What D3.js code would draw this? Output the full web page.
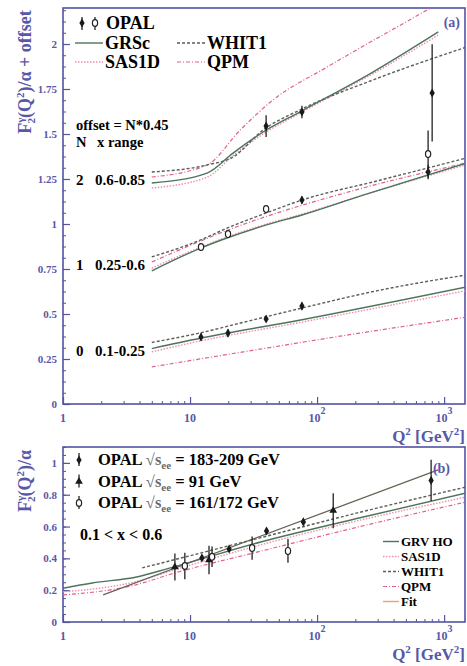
<!DOCTYPE html>
<html>
<head>
<meta charset="utf-8">
<script src="https://cdn.jsdelivr.net/npm/d3@7"></script>
<style>
	body { margin: 0; background: #fff; }
</style>
</head>
<body>
<div id="chart-area"></div>
<script>
// ---- data ----
// panel (a): F2/alpha per x range, drawn with offset N*0.45
var offsetStep = 0.45;
var groupN = [0, 1, 2];
var groupXRange = ["0.1-0.25", "0.25-0.6", "0.6-0.85"];

// curves, [Q2, F2] per group N = 0, 1, 2
var grscA = [
	[[5, 0.308], [12, 0.365], [76, 0.468], [1500, 0.65]],
	[[5, 0.29], [12, 0.415], [20, 0.475], [40, 0.545], [76, 0.6], [230, 0.71], [1500, 0.889]],
	[[5, 0.328], [13.6, 0.383], [21.8, 0.494], [37.6, 0.611], [73, 0.722], [275, 0.944], [900, 1.167]]
];
var sasA = [
	[[5, 0.29], [12, 0.35], [76, 0.455], [1500, 0.63]],
	[[5, 0.305], [12, 0.42], [20, 0.48], [40, 0.55], [76, 0.605], [230, 0.71], [1500, 0.88]],
	[[5, 0.3], [13.6, 0.36], [21.8, 0.48], [37.6, 0.6], [73, 0.715], [275, 0.935], [900, 1.15]]
];
var whitA = [
	[[5, 0.342], [12, 0.395], [25, 0.45], [76, 0.533], [300, 0.63], [1500, 0.717]],
	[[5, 0.367], [12, 0.46], [20, 0.53], [40, 0.612], [76, 0.683], [300, 0.79], [1500, 0.917]],
	[[5, 0.389], [13.6, 0.428], [21.8, 0.472], [37.6, 0.622], [73, 0.733], [275, 0.9], [1500, 1.083]]
];
var qpmA = [
	[[5, 0.206], [20, 0.276], [200, 0.39], [1500, 0.483]],
	[[5, 0.339], [20, 0.517], [230, 0.75], [1500, 0.889]],
	[[5, 0.361], [13.6, 0.428], [24.8, 0.622], [45, 0.789], [120, 0.972], [735, 1.289], [1000, 1.343]]
];

// OPAL points per group
var opalAQ2 = [[12.2, 19.9, 39.7, 76], [12.2, 19.9, 39.7, 76, 748], [39.7, 76, 748, 805]];
var opalAF2 = [[0.372, 0.394, 0.472, 0.544], [0.422, 0.494, 0.633, 0.683, 0.839], [0.644, 0.722, 0.489, 0.828]];
var opalAErr = [[0.02, 0.02, 0.015, 0.02], [0.02, 0.02, 0.02, 0.02, 0.04], [0.06, 0.035, 0.13, 0.27]];
var opalAOpen = [[0, 0, 0, 0], [1, 1, 1, 0, 0], [0, 0, 1, 0]];

// panel (b): 0.1 < x < 0.6
var grvB = [[1, 0.212], [1.7, 0.245], [3.8, 0.283], [7, 0.34], [36, 0.503], [218, 0.655], [1500, 0.811]];
var sasB = [[1, 0.19], [3.8, 0.255], [7, 0.32], [36, 0.485], [218, 0.64], [1500, 0.786]];
var whitB = [[4.2, 0.34], [36, 0.53], [218, 0.69], [1500, 0.849]];
var qpmB = [[1, 0.17], [3.8, 0.235], [7, 0.3], [36, 0.445], [218, 0.6], [1500, 0.755]];
var fitB = [[2.07, 0.17], [897, 0.956]];

var opalBQ2 = [7.6, 9.1, 12.4, 14.1, 14.9, 20.3, 30.8, 40, 59, 78, 134, 790];
var opalBF2 = [0.346, 0.352, 0.403, 0.39, 0.41, 0.459, 0.465, 0.572, 0.447, 0.629, 0.70, 0.89];
var opalBErr = [0.085, 0.083, 0.015, 0.09, 0.065, 0.012, 0.073, 0.02, 0.075, 0.02, 0.11, 0.13];
var opalBSet = [1, 2, 0, 1, 2, 0, 2, 0, 2, 0, 1, 0]; // 0: 183-209, 1: 91, 2: 161/172
var opalBLabels = ["183-209 GeV", "91 GeV", "161/172 GeV"];

// axis ticks
var xMajorTicks = [1, 10, 100, 1000];
var xTickBase = ["1", "10", "10", "10"];
var xTickExp = ["", "", "2", "3"];
var yTicksA = [0, 0.25, 0.5, 0.75, 1, 1.25, 1.5, 1.75, 2];
var yTickLabelsA = ["0", "0.25", "0.5", "0.75", "1", "1.25", "1.5", "1.75", "2"];
var yTicksB = [0, 0.2, 0.4, 0.6, 0.8, 1];
var yTickLabelsB = ["0", "0.2", "0.4", "0.6", "0.8", "1"];

// ---- styles ----
var frameColor = "#5353a0";
var labelColor = "#5858a8";
var serif = "'Liberation Serif', 'DejaVu Serif', serif";
var styles = {
	grsc: { color: "#4d7459", dash: null, width: 1.4 },
	sas: { color: "#ee8cb4", dash: "1.5,1.5", width: 1.4 },
	whit: { color: "#5a5f5a", dash: "3,2", width: 1.4 },
	qpm: { color: "#e2608c", dash: "4,2,1,2", width: 1.2 },
	fit: { color: "#676457", dash: null, width: 1.3 },
	fitLegend: { color: "#f0a070", dash: null, width: 1.4 }
};

var width = 467;
var height = 666;

var svg = d3.select("#chart-area")
	.append("svg")
	.attr("width", width)
	.attr("height", height)
	.style("font-family", serif);

var panelA = { left: 63, right: 465, top: 8, bottom: 404 };
var panelB = { left: 63, right: 465, top: 447, bottom: 622 };

var xA = d3.scaleLog().domain([1, 1460]).range([panelA.left, panelA.right]);
var yA = d3.scaleLinear().domain([0, 2.2]).range([panelA.bottom, panelA.top]);
var xB = d3.scaleLog().domain([1, 1460]).range([panelB.left, panelB.right]);
var yB = d3.scaleLinear().domain([0, 1.1]).range([panelB.bottom, panelB.top]);

var minorX = [];
[1, 10, 100].forEach(function (dec) {
	for (var k = 2; k <= 9; k++) minorX.push(k * dec);
});

function drawFrame(p, x, y, yTicks, yLabels, yMinorStep, id) {
	var g = svg.append("g");

	// minor x ticks
	g.append("g")
		.attr("transform", "translate(0," + p.bottom + ")")
		.call(d3.axisBottom(x).tickValues(minorX).tickSize(-3).tickFormat(""))
		.call(a => a.select(".domain").remove())
		.call(a => a.selectAll("line").attr("stroke", frameColor).attr("stroke-width", 1));

	// major x ticks
	g.append("g")
		.attr("transform", "translate(0," + p.bottom + ")")
		.call(d3.axisBottom(x).tickValues(xMajorTicks).tickSize(-7).tickFormat(""))
		.call(a => a.select(".domain").remove())
		.call(a => a.selectAll("line").attr("stroke", frameColor).attr("stroke-width", 1.2));

	var xl = g.selectAll(".xlab")
		.data(xMajorTicks)
		.enter().append("text")
		.attr("x", d => x(d))
		.attr("y", p.bottom + 18)
		.attr("text-anchor", "middle")
		.attr("fill", labelColor)
		.attr("font-weight", "bold")
		.attr("font-size", "12px");
	xl.append("tspan").text((d, i) => xTickBase[i]);
	xl.append("tspan")
		.attr("dy", -8)
		.attr("font-size", "10px")
		.text((d, i) => xTickExp[i]);

	// y ticks
	var minorY = d3.range(0, y.domain()[1] + 1e-9, yMinorStep);
	g.append("g")
		.attr("transform", "translate(" + p.left + ",0)")
		.call(d3.axisLeft(y).tickValues(minorY).tickSize(-3).tickFormat(""))
		.call(a => a.select(".domain").remove())
		.call(a => a.selectAll("line").attr("stroke", frameColor).attr("stroke-width", 1));

	g.append("g")
		.attr("transform", "translate(" + p.left + ",0)")
		.call(d3.axisLeft(y).tickValues(yTicks).tickSize(-7).tickFormat(""))
		.call(a => a.select(".domain").remove())
		.call(a => a.selectAll("line").attr("stroke", frameColor).attr("stroke-width", 1.2));

	g.selectAll(".ylab")
		.data(yTicks)
		.enter().append("text")
		.attr("x", p.left - 6)
		.attr("y", d => y(d) + 4)
		.attr("text-anchor", "end")
		.attr("fill", labelColor)
		.attr("font-weight", "bold")
		.attr("font-size", "11px")
		.text((d, i) => yLabels[i]);

	g.append("rect")
		.attr("x", p.left)
		.attr("y", p.top)
		.attr("width", p.right - p.left)
		.attr("height", p.bottom - p.top)
		.attr("fill", "none")
		.attr("stroke", frameColor)
		.attr("stroke-width", 1.6);

	svg.append("clipPath")
		.attr("id", id)
		.append("rect")
		.attr("x", p.left)
		.attr("y", p.top)
		.attr("width", p.right - p.left)
		.attr("height", p.bottom - p.top);
}

drawFrame(panelA, xA, yA, yTicksA, yTickLabelsA, 0.0625, "clipA");
drawFrame(panelB, xB, yB, yTicksB, yTickLabelsB, 0.05, "clipB");

function drawCurve(g, pts, x, y, off, st) {
	var line = d3.line()
		.x(d => x(d[0]))
		.y(d => y(d[1] + off))
		.curve(d3.curveMonotoneX);
	g.append("path")
		.attr("d", line(pts))
		.attr("fill", "none")
		.attr("stroke", st.color)
		.attr("stroke-width", st.width)
		.attr("stroke-dasharray", st.dash);
}

function marker(g, cx, cy, kind) {
	if (kind === "open") {
		g.append("ellipse")
			.attr("cx", cx).attr("cy", cy)
			.attr("rx", 2.6).attr("ry", 3.4)
			.attr("fill", "#fff")
			.attr("stroke", "#222")
			.attr("stroke-width", 1.2);
	} else {
		var sym = kind === "tri" ? d3.symbolTriangle : d3.symbolDiamond;
		g.append("path")
			.attr("transform", "translate(" + cx + "," + cy + ")")
			.attr("d", d3.symbol().type(sym).size(kind === "tri" ? 26 : 24)())
			.attr("fill", "#1a1a1a");
	}
}

function errBar(g, cx, y0, y1) {
	g.append("line")
		.attr("x1", cx).attr("x2", cx)
		.attr("y1", y0).attr("y2", y1)
		.attr("stroke", "#222")
		.attr("stroke-width", 1.3);
}

// ---- panel (a) ----
var gA = svg.append("g").attr("clip-path", "url(#clipA)");
groupN.forEach(function (n, gi) {
	var off = n * offsetStep;
	drawCurve(gA, qpmA[gi], xA, yA, off, styles.qpm);
	drawCurve(gA, sasA[gi], xA, yA, off, styles.sas);
	drawCurve(gA, whitA[gi], xA, yA, off, styles.whit);
	drawCurve(gA, grscA[gi], xA, yA, off, styles.grsc);

	opalAQ2[gi].forEach(function (q, j) {
		var v = opalAF2[gi][j] + off;
		var e = opalAErr[gi][j];
		errBar(gA, xA(q), yA(v - e), yA(v + e));
		marker(gA, xA(q), yA(v), opalAOpen[gi][j] ? "open" : "fill");
	});
});

// group labels
groupN.forEach(function (n, gi) {
	var by = [356, 270, 185][gi];
	svg.append("text")
		.attr("x", 76).attr("y", by)
		.attr("font-weight", "bold").attr("font-size", "15px")
		.text(n);
	svg.append("text")
		.attr("x", 95).attr("y", by)
		.attr("font-weight", "bold").attr("font-size", "15px")
		.text(groupXRange[gi]);
});

svg.append("text")
	.attr("x", 76).attr("y", 130)
	.attr("font-weight", "bold").attr("font-size", "14.5px")
	.text("offset = N*0.45");
svg.append("text")
	.attr("x", 76).attr("y", 147)
	.attr("font-weight", "bold").attr("font-size", "14.5px")
	.text("N");
svg.append("text")
	.attr("x", 97).attr("y", 147)
	.attr("font-weight", "bold").attr("font-size", "14.5px")
	.text("x range");

// legend (a)
errBar(svg, 82, 17, 30);
marker(svg, 82, 23, "fill");
errBar(svg, 95, 17, 30);
marker(svg, 95, 23, "open");
svg.append("text")
	.attr("x", 106).attr("y", 29)
	.attr("font-weight", "bold").attr("font-size", "18px")
	.text("OPAL");

var legA = [
	{ name: "GRSc", st: styles.grsc, x: 75, y: 49 },
	{ name: "SAS1D", st: styles.sas, x: 75, y: 68 },
	{ name: "WHIT1", st: styles.whit, x: 177, y: 49 },
	{ name: "QPM", st: styles.qpm, x: 177, y: 68 }
];
legA.forEach(function (d) {
	svg.append("line")
		.attr("x1", d.x).attr("x2", d.x + 28)
		.attr("y1", d.y - 6).attr("y2", d.y - 6)
		.attr("stroke", d.st.color)
		.attr("stroke-width", d.st.width)
		.attr("stroke-dasharray", d.st.dash);
	svg.append("text")
		.attr("x", d.x + 30).attr("y", d.y)
		.attr("font-weight", "bold").attr("font-size", "18px")
		.text(d.name);
});

svg.append("text")
	.attr("x", 460).attr("y", 27)
	.attr("text-anchor", "end")
	.attr("fill", labelColor)
	.attr("font-weight", "bold").attr("font-size", "14px")
	.text("(a)");

// ---- panel (b) ----
var gB = svg.append("g").attr("clip-path", "url(#clipB)");
drawCurve(gB, qpmB, xB, yB, 0, styles.qpm);
drawCurve(gB, sasB, xB, yB, 0, styles.sas);
drawCurve(gB, whitB, xB, yB, 0, styles.whit);
drawCurve(gB, grvB, xB, yB, 0, styles.grsc);
drawCurve(gB, fitB, xB, yB, 0, styles.fit);

var setKind = ["fill", "tri", "open"];
opalBQ2.forEach(function (q, j) {
	var v = opalBF2[j];
	var e = opalBErr[j];
	errBar(gB, xB(q), yB(v - e), yB(v + e));
	marker(gB, xB(q), yB(v), setKind[opalBSet[j]]);
});

// legend (b), data sets
opalBLabels.forEach(function (lab, i) {
	var by = 465 + i * 21.5;
	errBar(svg, 79, by - 12, by + 1);
	marker(svg, 79, by - 5, setKind[i]);
	var t = svg.append("text")
		.attr("x", 98).attr("y", by)
		.attr("font-weight", "bold").attr("font-size", "16.5px");
	t.append("tspan").text("OPAL ");
	t.append("tspan").attr("fill", "#6a6a6a").text("\u221As");
	t.append("tspan").attr("dy", 4).attr("font-size", "11px").attr("fill", "#6a6a6a").text("ee");
	t.append("tspan").attr("dy", -4).text(" = " + lab);
});

svg.append("text")
	.attr("x", 80).attr("y", 540)
	.attr("font-weight", "bold").attr("font-size", "16px")
	.text("0.1 < x < 0.6");

var legB = [
	{ name: "GRV HO", st: styles.grsc },
	{ name: "SAS1D", st: styles.sas },
	{ name: "WHIT1", st: styles.whit },
	{ name: "QPM", st: styles.qpm },
	{ name: "Fit", st: styles.fitLegend }
];
legB.forEach(function (d, i) {
	var by = 546 + i * 15;
	svg.append("line")
		.attr("x1", 383).attr("x2", 399)
		.attr("y1", by - 4.5).attr("y2", by - 4.5)
		.attr("stroke", d.st.color)
		.attr("stroke-width", d.st.width)
		.attr("stroke-dasharray", d.st.dash);
	svg.append("text")
		.attr("x", 401).attr("y", by)
		.attr("font-weight", "bold").attr("font-size", "13px")
		.text(d.name);
});

svg.append("text")
	.attr("x", 450).attr("y", 473)
	.attr("text-anchor", "end")
	.attr("fill", labelColor)
	.attr("font-weight", "bold").attr("font-size", "14px")
	.text("(b)");

// ---- axis titles ----
function yTitle(cx, cy, extra) {
	var t = svg.append("text")
		.attr("transform", "translate(" + cx + "," + cy + ") rotate(-90)")
		.attr("text-anchor", "middle")
		.attr("fill", labelColor)
		.attr("font-weight", "bold")
		.attr("font-size", "18px");
	t.append("tspan").text("F");
	t.append("tspan").attr("dy", -7).attr("font-size", "11px").text("\u03B3");
	t.append("tspan").attr("dx", -6).attr("dy", 11).attr("font-size", "11px").text("2");
	t.append("tspan").attr("dy", -4).text("(Q");
	t.append("tspan").attr("dy", -7).attr("font-size", "11px").text("2");
	t.append("tspan").attr("dy", 7).text(")/\u03B1" + extra);
}
yTitle(31, 72, " + offset");
yTitle(31, 481, "");

function xTitle(by) {
	var t = svg.append("text")
		.attr("x", 465).attr("y", by)
		.attr("text-anchor", "end")
		.attr("fill", labelColor)
		.attr("font-weight", "bold")
		.attr("font-size", "17px");
	t.append("tspan").text("Q");
	t.append("tspan").attr("dy", -7).attr("font-size", "11px").text("2");
	t.append("tspan").attr("dy", 7).text(" [GeV");
	t.append("tspan").attr("dy", -7).attr("font-size", "11px").text("2");
	t.append("tspan").attr("dy", 7).text("]");
}
xTitle(442);
xTitle(660);
</script>
</body>
</html>
